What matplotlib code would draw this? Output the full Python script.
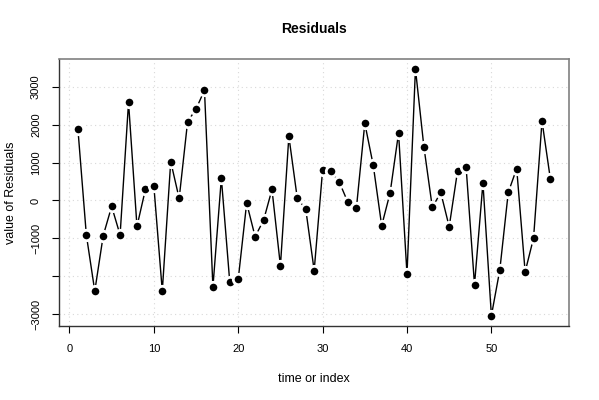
import numpy as np
import matplotlib
matplotlib.use("Agg")
import matplotlib.pyplot as plt

plt.rcParams['font.family'] = ['Liberation Sans', 'DejaVu Sans']

# residual values, index 1..57
residuals = [1887, -911, -2394, -929, -158, -911, 2589, -684, 290, 386,
             -2394, 1026, 53, 2079, 2413, 2913, -2289, 588, -2166, -2079,
             -70, -955, -526, 290, -1728, 1693, 53, -228, -1851, 807,
             772, 474, -53, -210, 2036, 930, -667, 202, 1781, -1947,
             3474, 1421, -184, 211, -693, 790, 895, -2228, 465, -3044,
             -1833, 211, 843, -1886, -991, 2096, 553]
index = np.arange(1, len(residuals) + 1)

x_ticks = [0, 10, 20, 30, 40, 50]
y_ticks = [-3000, -2000, -1000, 0, 1000, 2000, 3000]
y_labels = ['\u22123000', '', '\u22121000', '0', '1000', '2000', '3000']

fig = plt.figure(figsize=(5.99, 4.0), dpi=100)
ax = fig.add_axes([0.0985, 0.186, 0.852, 0.6665])

ax.plot(index, residuals, color='black', lw=1.0, marker='o', ms=7.5,
        mfc='black', mec='white', mew=2.0, zorder=3)

# R style 4% padding
xr = index.max() - index.min()
ax.set_xlim(index.min() - 0.04 * xr, index.max() + 0.04 * xr)
yr = max(residuals) - min(residuals)
ax.set_ylim(min(residuals) - 0.04 * yr, max(residuals) + 0.04 * yr)

ax.set_xticks(x_ticks)
ax.set_xticklabels([str(t) for t in x_ticks], fontsize=8)
ax.set_yticks(y_ticks)
ax.set_yticklabels(y_labels, fontsize=8, rotation=90, va='center')
ax.tick_params(direction='out', length=5, width=0.8, pad=8)
ax.grid(True, color='#d8d8d8', ls=(0, (1, 3)), lw=0.8)

for side in ['top', 'right']:
    ax.spines[side].set_color('#808080')
    ax.spines[side].set_linewidth(1.2)
for side in ['bottom', 'left']:
    ax.spines[side].set_color('#333333')
    ax.spines[side].set_linewidth(1.0)

ax.set_xlabel('time or index', fontsize=9, labelpad=14)
ax.set_ylabel('value of Residuals', fontsize=9, labelpad=10)
ax.set_title('Residuals', fontsize=10, fontweight='bold', pad=19)

fig.savefig('out.png', dpi=100)
